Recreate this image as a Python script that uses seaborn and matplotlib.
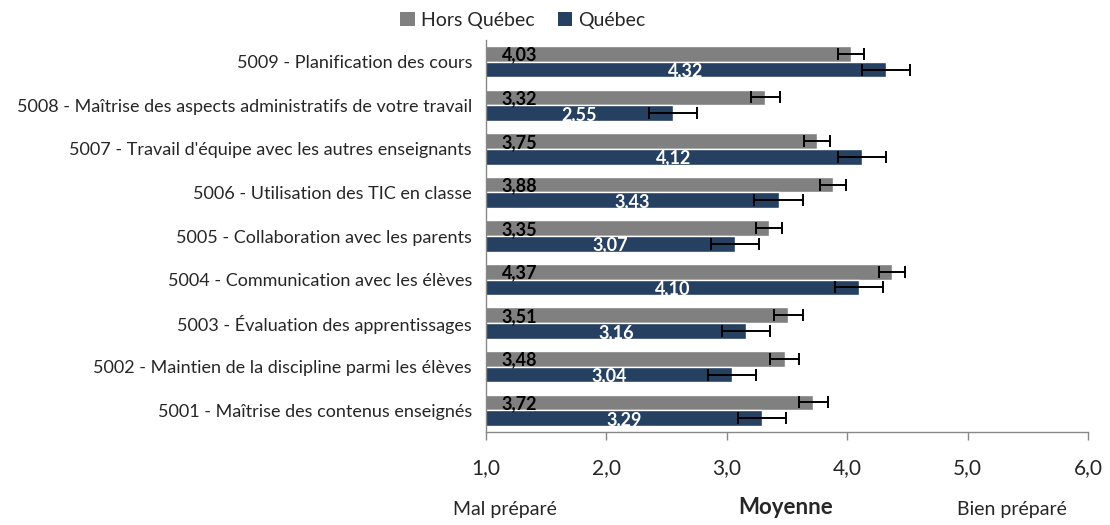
import pandas as pd
import matplotlib.pyplot as plt
import seaborn as sns
from matplotlib.patches import Patch
from matplotlib.ticker import FixedLocator

categories = [
    "5009 - Planification des cours",
    "5008 - Maîtrise des aspects administratifs de votre travail",
    "5007 - Travail d'équipe avec les autres enseignants",
    "5006 - Utilisation des TIC en classe",
    "5005 - Collaboration avec les parents",
    "5004 - Communication avec les élèves",
    "5003 - Évaluation des apprentissages",
    "5002 - Maintien de la discipline parmi les élèves",
    "5001 - Maîtrise des contenus enseignés",
]
hors_quebec = [4.03, 3.32, 3.75, 3.88, 3.35, 4.37, 3.51, 3.48, 3.72]
quebec = [4.32, 2.55, 4.12, 3.43, 3.07, 4.10, 3.16, 3.04, 3.29]
hors_quebec_err = [0.11, 0.12, 0.11, 0.11, 0.11, 0.11, 0.12, 0.12, 0.12]
quebec_err = [0.20, 0.20, 0.20, 0.20, 0.20, 0.20, 0.20, 0.20, 0.20]
series = ["Hors Québec", "Québec"]
colors = ["#808080", "#254061"]
x_ticks = [1, 2, 3, 4, 5, 6]
x_tick_labels = ["1,0", "2,0", "3,0", "4,0", "5,0", "6,0"]

df = pd.DataFrame({
    "item": categories * 2,
    "groupe": [series[0]] * len(categories) + [series[1]] * len(categories),
    "moyenne": hors_quebec + quebec,
    "erreur": hors_quebec_err + quebec_err,
})

sns.set_style("white")
plt.rcParams["font.family"] = ["Lato", "DejaVu Sans"]

fig = plt.figure(figsize=(11.1, 5.25), dpi=100)
ax = fig.add_axes([486 / 1110, 1 - 432 / 525, (1088 - 486) / 1110, (432 - 40) / 525])

sns.barplot(data=df, y="item", x="moyenne", hue="groupe", order=categories,
            hue_order=series, palette=colors, orient="h", width=0.72, gap=0,
            errorbar=None, legend=False, saturation=1, ax=ax)

# barres d'erreur + etiquettes
bar_groups = list(ax.containers)
for k, cont in enumerate(bar_groups):
    sub = df[df["groupe"] == series[k]].set_index("item").loc[categories]
    for bar, v, e in zip(cont, sub["moyenne"], sub["erreur"]):
        yc = bar.get_y() + bar.get_height() / 2
        ax.errorbar(v, yc, xerr=e, fmt="none", ecolor="black", elinewidth=1.4,
                    capsize=4, capthick=1.4, zorder=4)
        txt = f"{v:.2f}".replace(".", ",")
        if k == 0:
            ax.text(1.13, yc + 0.03, txt, ha="left", va="center", fontsize=13,
                    fontweight="bold", color="black", zorder=5)
        else:
            ax.text((1 + v) / 2, yc + 0.03, txt, ha="center", va="center",
                    fontsize=13, fontweight="bold", color="white", zorder=5)

ax.set_xlim(1, 6)
ax.set_ylim(len(categories) - 0.5, -0.5)
ax.set_xticks(x_ticks)
ax.set_xticklabels(x_tick_labels, fontsize=15)
ax.set_xlabel("")
ax.set_ylabel("")
ax.tick_params(axis="y", which="major", length=0, labelsize=13, pad=10)
ax.yaxis.set_minor_locator(FixedLocator([i - 0.5 for i in range(len(categories) + 1)]))
ax.tick_params(axis="y", which="minor", length=5, color="#888888", width=1, direction="out")
ax.tick_params(axis="x", which="major", length=6, color="#888888", width=1,
               direction="out", bottom=True, pad=13)
for side in ["top", "right"]:
    ax.spines[side].set_visible(False)
for side in ["left", "bottom"]:
    ax.spines[side].set_color("#888888")
    ax.spines[side].set_linewidth(1)

handles = [Patch(facecolor=c, edgecolor="none") for c in colors]
fig.legend(handles, series, loc="center", bbox_to_anchor=(523 / 1110, 1 - 20 / 525),
           ncol=2, frameon=False, fontsize=14, handlelength=0.75, handleheight=0.75,
           handletextpad=0.3, columnspacing=1.2)

fig.text(505 / 1110, 1 - 510 / 525, "Mal préparé", ha="center", va="center", fontsize=14)
fig.text(786 / 1110, 1 - 508 / 525, "Moyenne", ha="center", va="center", fontsize=16,
         fontweight="bold")
fig.text(1012 / 1110, 1 - 510 / 525, "Bien préparé", ha="center", va="center", fontsize=14)

fig.savefig("out.png", dpi=100)
